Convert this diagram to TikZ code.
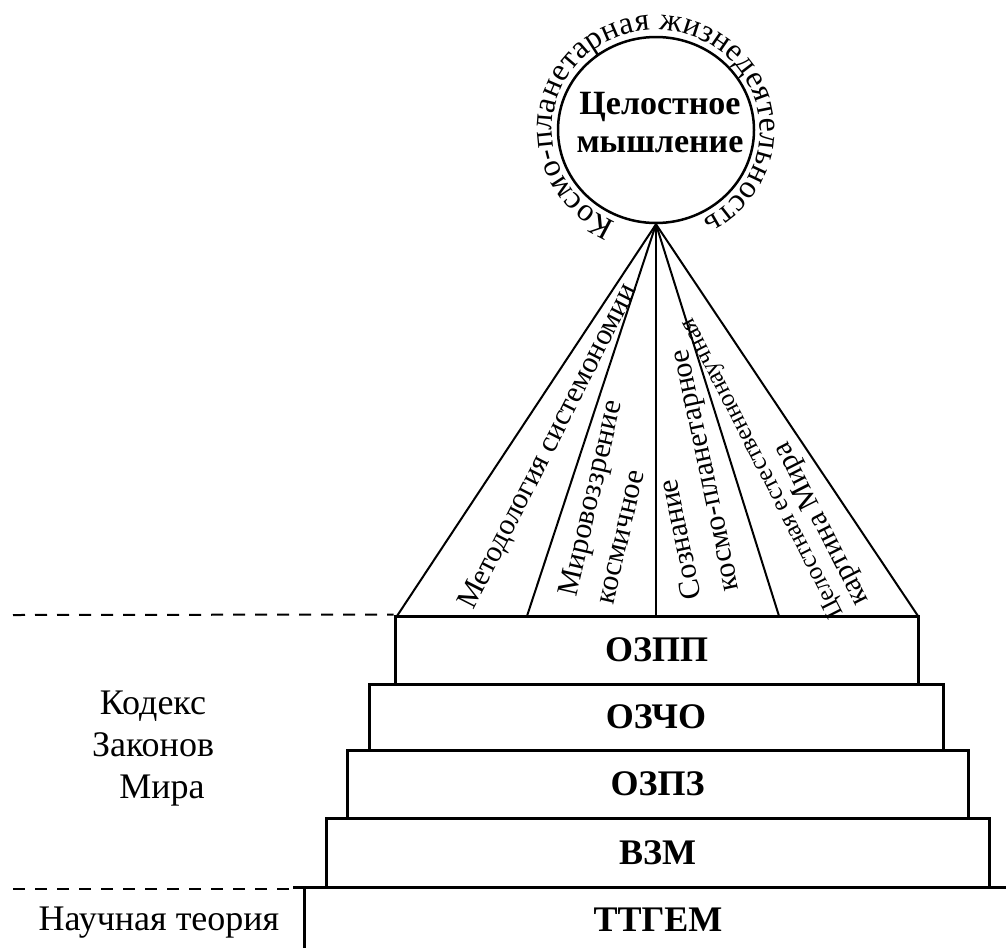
\documentclass[tikz,border=0pt]{standalone}
\usepackage{fontspec}
\setmainfont{Liberation Serif}
\usetikzlibrary{decorations.text,shapes.geometric}
\begin{document}
\begin{tikzpicture}[x=1pt,y=-1pt,
  boxst/.style={draw, line width=3pt, inner sep=0pt, font=\fontsize{36}{40}\selectfont\bfseries},
  solidline/.style={line width=3pt},
  sidelbl/.style={font=\fontsize{36}{42}\selectfont, align=center, inner sep=0pt},
  raylbl/.style={font=\fontsize{30}{38}\selectfont, align=left, inner sep=0pt},
  ray/.style={line width=2pt},
  dashline/.style={line width=2pt, dash pattern=on 12pt off 10pt}
]
\useasboundingbox (0,0) rectangle (1006,948);

% steps of the pyramid
\node[boxst, minimum width=523pt, minimum height=68pt] (ozpp) at (656.5,650) {ОЗПП};
\node[boxst, minimum width=574pt, minimum height=66pt] (ozcho) at (656,717) {ОЗЧО};
\node[boxst, minimum width=621pt, minimum height=68pt] (ozpz) at (657.5,784) {ОЗПЗ};
\node[boxst, minimum width=663pt, minimum height=69pt] (vzm) at (657.5,852.5) {ВЗМ};

% base: scientific theory
\coordinate (b1) at (293,887);
\coordinate (b2) at (1006,887);
\coordinate (v1) at (304,887);
\coordinate (v2) at (304,948);
\draw[solidline] (b1) -- (b2);
\draw[solidline] (v1) -- (v2);
\node[font=\fontsize{36}{40}\selectfont\bfseries] (ttgem) at (658,920) {ТТГЕМ};

% dashed separators
\coordinate (d1) at (13,615);
\draw[dashline] (d1) -- (ozpp.north west);
\coordinate (d2) at (13,889);
\coordinate (d3) at (293,889);
\draw[dashline] (d2) -- (d3);

% side labels
\node[sidelbl] (kodeks) at (153,749) {Кодекс\\Законов\\\ \ Мира};
\node[font=\fontsize{36}{40}\selectfont, anchor=base] (nauch) at (159,930) {Научная теория};

% circle
\node[draw, ellipse, line width=2.5pt, minimum width=196pt, minimum height=186pt, inner sep=0pt] (circ) at (656,130) {};
\node[font=\fontsize{34}{38}\selectfont\bfseries, align=center] (circtxt) at (660,123) {Целостное\\мышление};
\path[decorate, decoration={text along path,
   text={|\fontsize{32}{32}\selectfont|Космо-планетарная жизнедеятельность},
   text align={fit to path}}]
   (circ.center) ++(-247:104 and 100) arc[start angle=-247, end angle=63, x radius=104, y radius=100];

% rays
\coordinate (r1) at (397,616);
\coordinate (r2) at (527,616);
\coordinate (r3) at (656,616);
\coordinate (r4) at (779,616);
\coordinate (r5) at (918,616);
\foreach \r in {r1,r2,r3,r4,r5} \draw[ray] (circ.south) -- (\r);

% ray labels
\node[raylbl, rotate=63] (lab1) at (549,447) {Методология системономии};
\node[raylbl, rotate=77] (lab2) at (608,502) {Мировоззрение\\космичное};
\node[raylbl, rotate=102] (lab3) at (688,474) {Сознание\\космо-планетарное};
\node[raylbl, rotate=117, font=\fontsize{25}{36}\selectfont] (lab4) at (776,461)
   {Целостная естественнонаучная\\[-8pt]{\fontsize{30}{36}\selectfont картина Мира}};
\end{tikzpicture}
\end{document}
